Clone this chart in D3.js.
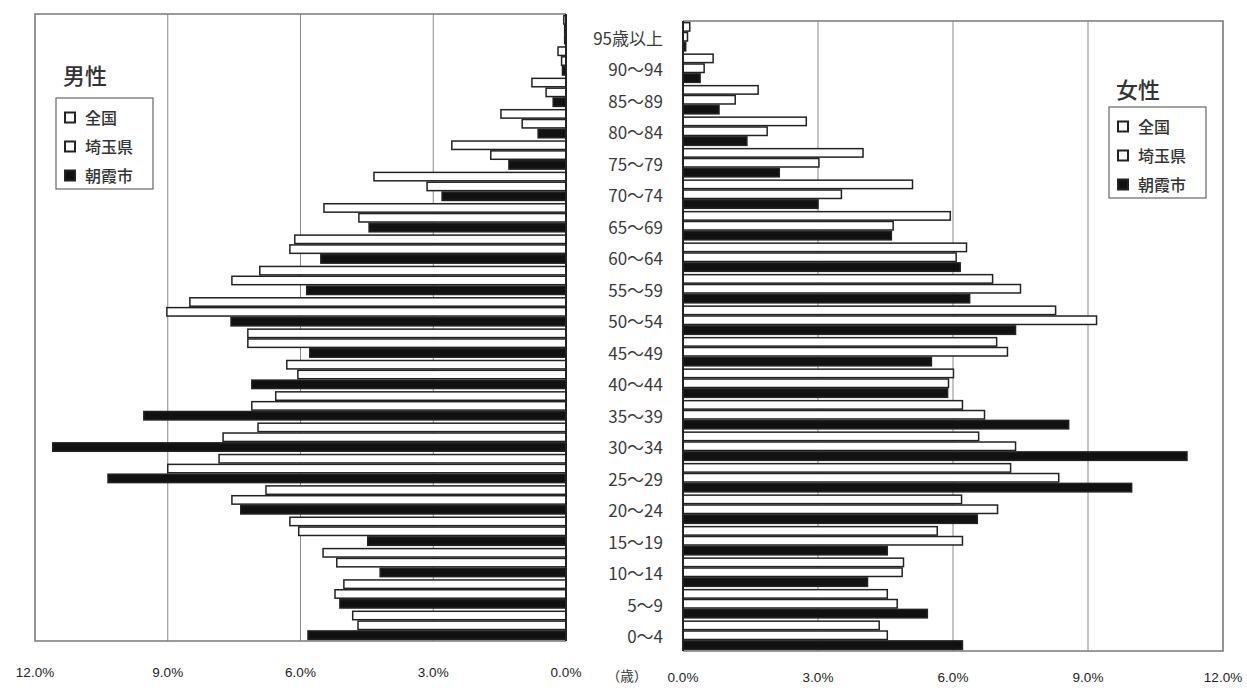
<!DOCTYPE html>
<html>
<head>
<meta charset="utf-8">
<script src="https://cdn.jsdelivr.net/npm/d3@7"></script>
<style>
  html, body { margin: 0; padding: 0; background: #fff; }
  svg { display: block; }
</style>
</head>
<body>
<svg id="chart" width="1247" height="690"></svg>
<script>
// ---- data (percent of population by 5-year age group, bottom -> top) ----
const ageGroups = ["0～4","5～9","10～14","15～19","20～24","25～29","30～34","35～39","40～44","45～49",
                   "50～54","55～59","60～64","65～69","70～74","75～79","80～84","85～89","90～94","95歳以上"];
const seriesNames = ["全国", "埼玉県", "朝霞市"];

const maleNational = [4.82,5.02,5.49,6.24,6.78,7.84,6.96,6.56,6.31,7.19,8.50,6.92,6.13,5.47,4.34,2.58,1.47,0.77,0.18,0.05];
const maleSaitama  = [4.70,5.22,5.18,6.04,7.55,9.00,7.75,7.10,6.06,7.19,9.02,7.55,6.24,4.68,3.14,1.70,0.99,0.45,0.10,0.03];
const maleAsaka    = [5.83,5.11,4.20,4.48,7.35,10.35,11.60,9.54,7.10,5.79,7.57,5.86,5.54,4.45,2.80,1.29,0.63,0.29,0.08,0.03];

const femaleNational = [4.36,4.54,4.90,5.65,6.19,7.28,6.57,6.21,6.01,6.97,8.28,6.88,6.30,5.94,5.10,4.00,2.74,1.67,0.67,0.15];
const femaleSaitama  = [4.54,4.76,4.87,6.21,6.99,8.35,7.39,6.70,5.90,7.21,9.19,7.50,6.07,4.67,3.52,3.02,1.87,1.16,0.47,0.10];
const femaleAsaka    = [6.21,5.43,4.10,4.54,6.54,9.97,11.20,8.57,5.88,5.52,7.39,6.37,6.16,4.63,3.00,2.14,1.42,0.80,0.38,0.06];

const tickValues = [0, 3, 6, 9, 12];
const tickLabels = ["0.0%", "3.0%", "6.0%", "9.0%", "12.0%"];
const maleTitle = "男性";
const femaleTitle = "女性";
const unitLabel = "（歳）";

// ---- drawing ----
const svg = d3.select("#chart");
const topDown = ageGroups.slice().reverse();

const fills = { "全国": "#fff", "埼玉県": "#fff", "朝霞市": "#111" };

function panel(opts) {
  const { x, yTop, yBottom, data, title, legendX, legendY, titleY, tickY } = opts;
  const g = svg.append("g");
  const y = d3.scaleBand().domain(topDown).range([yTop, yBottom]).paddingInner(0.06).paddingOuter(0.03);
  const ys = d3.scaleBand().domain(seriesNames).range([0, y.bandwidth()]).padding(0);

  const x0 = x(0), x12 = x(12);
  // grid lines
  g.selectAll("line.grid").data([3, 6, 9]).join("line")
    .attr("x1", d => x(d)).attr("x2", d => x(d))
    .attr("y1", yTop).attr("y2", yBottom)
    .attr("stroke", "#8a8a8a").attr("stroke-width", 1);
  // frame
  g.append("path")
    .attr("d", `M${x0},${yTop}H${x12}V${yBottom}H${x0}`)
    .attr("fill", "none").attr("stroke", "#7a7a7a").attr("stroke-width", 1.6);

  // bars
  const rows = [];
  ageGroups.forEach((a, i) => seriesNames.forEach((s, j) => rows.push({ age: a, s, v: data[j][i] })));
  g.selectAll("rect.bar").data(rows).join("rect")
    .attr("x", d => Math.min(x(0), x(d.v)))
    .attr("width", d => Math.abs(x(d.v) - x(0)))
    .attr("y", d => y(d.age) + ys(d.s) + 0.7)
    .attr("height", ys.bandwidth() - 1.4)
    .attr("fill", d => fills[d.s])
    .attr("stroke", "#222").attr("stroke-width", 1.5);

  // zero axis
  g.append("line").attr("x1", x0).attr("x2", x0).attr("y1", yTop).attr("y2", yBottom)
    .attr("stroke", "#222").attr("stroke-width", 2);

  // tick labels
  g.selectAll("text.tick").data(tickValues).join("text")
    .attr("x", d => x(d)).attr("y", tickY)
    .attr("text-anchor", "middle")
    .attr("font-family", "'Liberation Sans', Arial, sans-serif")
    .attr("font-size", 13.5).attr("fill", "#222")
    .text((d, i) => tickLabels[i]);

  // legend
  const lg = svg.append("g").attr("transform", `translate(${legendX},${legendY})`);
  lg.append("text").attr("x", 7).attr("y", titleY)
    .attr("font-family", "'Noto Sans CJK JP', sans-serif").attr("font-size", 22)
    .attr("font-weight", 500).attr("fill", "#333").text(title);
  lg.append("rect").attr("x", 0).attr("y", 0).attr("width", 97).attr("height", 91)
    .attr("fill", "#fff").attr("stroke", "#666").attr("stroke-width", 1.2);
  seriesNames.forEach((s, i) => {
    const cy = 20 + i * 29;
    lg.append("rect").attr("x", 9).attr("y", cy - 5.5).attr("width", 10).attr("height", 10)
      .attr("fill", fills[s]).attr("stroke", "#222").attr("stroke-width", 2);
    lg.append("text").attr("x", 29).attr("y", cy + 6)
      .attr("font-family", "'Noto Sans CJK JP', sans-serif").attr("font-size", 16)
      .attr("font-weight", 500).attr("fill", "#333").text(s);
  });
  return y;
}

const xLeft = d3.scaleLinear().domain([0, 12]).range([566, 35]);
const xRight = d3.scaleLinear().domain([0, 12]).range([683, 1223]);

panel({ x: xLeft, yTop: 14, yBottom: 641, data: [maleNational, maleSaitama, maleAsaka],
        title: maleTitle, legendX: 56, legendY: 98, titleY: -14, tickY: 677 });
const yR = panel({ x: xRight, yTop: 21, yBottom: 651, data: [femaleNational, femaleSaitama, femaleAsaka],
        title: femaleTitle, legendX: 1109, legendY: 107, titleY: -9, tickY: 682 });

// age labels (center column)
svg.append("g").selectAll("text").data(ageGroups).join("text")
  .attr("x", 663)
  .attr("y", d => yR(d) + yR.bandwidth() / 2 + 8)
  .attr("text-anchor", "end")
  .attr("font-family", "'Noto Sans CJK JP', sans-serif")
  .attr("font-size", 17).attr("fill", "#3a3a3a")
  .text(d => d);

svg.append("text").attr("x", 627).attr("y", 681).attr("text-anchor", "middle")
  .attr("font-family", "'Noto Sans CJK JP', sans-serif").attr("font-size", 13.5)
  .attr("fill", "#333").text(unitLabel);
</script>
</body>
</html>
